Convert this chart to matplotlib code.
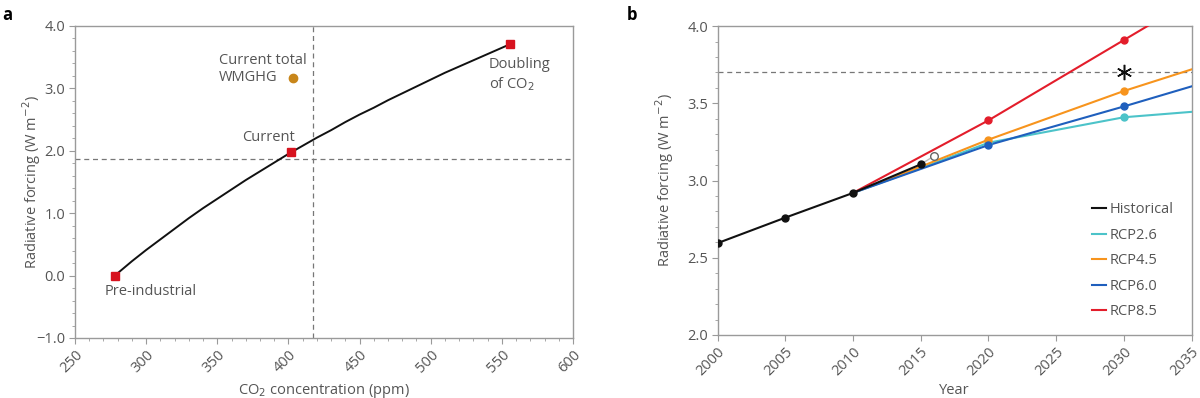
import numpy as np
import matplotlib
matplotlib.use("Agg")
import matplotlib.pyplot as plt
from matplotlib.ticker import MultipleLocator, FuncFormatter
from matplotlib.lines import Line2D

plt.rcParams['font.family'] = ['Open Sans', 'DejaVu Sans']

# panel a: CO2 concentration vs radiative forcing (curve)
co2_ppm = [278, 290, 300, 310, 320, 330, 340, 350, 360, 370, 380, 390, 400, 410,
           420, 430, 440, 450, 460, 470, 480, 490, 500, 510, 520, 530, 540, 550, 556]
co2_rf = [0.0, 0.23, 0.41, 0.58, 0.75, 0.92, 1.08, 1.23, 1.38, 1.53, 1.67, 1.81, 1.95, 2.08,
          2.21, 2.33, 2.46, 2.58, 2.69, 2.81, 2.92, 3.03, 3.14, 3.25, 3.35, 3.45, 3.55, 3.65, 3.71]
marker_ppm = [278, 402, 556]
marker_rf = [0.0, 1.98, 3.71]
wmghg_ppm = 403
wmghg_rf = 3.16
vline_ppm = 417
hline_rf = 1.86

# panel b: forcing by year
hist_years = [2000, 2005, 2010, 2015]
hist_rf = [2.595, 2.76, 2.92, 3.105]
obs_year = 2016
obs_rf = 3.16
rcp_years = [2010, 2015, 2020, 2030, 2035]
rcp26 = [2.92, 3.08, 3.245, 3.41, 3.445]
rcp45 = [2.92, 3.09, 3.265, 3.58, 3.72]
rcp60 = [2.92, 3.075, 3.23, 3.48, 3.61]
rcp85 = [2.92, 3.155, 3.39, 3.91, 4.17]
rcp_marker_years = [2020, 2030]
doubling_rf = 3.7
star_year = 2030

rcp_names = ['RCP2.6', 'RCP4.5', 'RCP6.0', 'RCP8.5']
rcp_colors = ['#4cc3c9', '#f7941d', '#1f5fbd', '#e31d2b']

txt = '#555555'
spine = '#9a9a9a'
fs = 10.5

fig = plt.figure(figsize=(12, 3.98), dpi=100)
ax1 = fig.add_axes([0.0625, 0.1508, 0.415, 0.784])
ax2 = fig.add_axes([0.598, 0.1583, 0.395, 0.776])

minus_fmt = FuncFormatter(lambda v, p: ('%.1f' % v).replace('-', '\u2212'))


def style(ax):
    for s in ax.spines.values():
        s.set_color(spine)
        s.set_linewidth(1.0)
    ax.tick_params(which='both', colors=spine, labelcolor=txt, labelsize=fs, direction='out')
    ax.tick_params(which='major', length=4, pad=3)
    ax.tick_params(which='minor', length=2.5)
    ax.yaxis.set_major_formatter(minus_fmt)
    for lab in ax.get_xticklabels():
        lab.set_rotation(45)
        lab.set_ha('right')
        lab.set_rotation_mode('anchor')


# ---- panel a
ax1.plot(co2_ppm, co2_rf, color='#111111', lw=1.4, zorder=3)
ax1.plot(marker_ppm, marker_rf, 's', color='#d7131f', ms=6, zorder=4)
ax1.plot(wmghg_ppm, wmghg_rf, 'o', color='#c8861a', ms=6, zorder=4)
ax1.axvline(vline_ppm, color='#777777', lw=0.9, ls=(0, (4, 3)), zorder=2)
ax1.axhline(hline_rf, color='#777777', lw=0.9, ls=(0, (4, 3)), zorder=2)
ax1.set_xlim(250, 600)
ax1.set_ylim(-1.0, 4.0)
ax1.xaxis.set_major_locator(MultipleLocator(50))
ax1.xaxis.set_minor_locator(MultipleLocator(10))
ax1.yaxis.set_major_locator(MultipleLocator(1.0))
ax1.yaxis.set_minor_locator(MultipleLocator(0.2))
style(ax1)
ax1.set_xlabel('CO$_2$ concentration (ppm)', color=txt, fontsize=fs, labelpad=4)
ax1.set_ylabel('Radiative forcing (W m$^{-2}$)', color=txt, fontsize=fs)
ax1.yaxis.set_label_coords(-0.064, 0.5)

ax1.text(351, 3.31, 'Current total\nWMGHG', ha='left', va='center', color=txt,
         fontsize=fs, linespacing=1.25)
ax1.text(386, 2.22, 'Current', ha='center', va='center', color=txt, fontsize=fs)
ax1.text(541, 3.22, 'Doubling\nof CO$_2$', ha='left', va='center', color=txt,
         fontsize=fs, linespacing=1.25)
ax1.text(271, -0.26, 'Pre-industrial', ha='left', va='center', color=txt, fontsize=fs)
fig.text(0.002, 0.985, 'a', fontsize=12, fontweight='bold', va='top', ha='left')

# ---- panel b
ax2.axhline(doubling_rf, color='#777777', lw=0.9, ls=(0, (4, 3)), zorder=1)
for vals, c in zip([rcp26, rcp45, rcp60, rcp85], rcp_colors):
    ax2.plot(rcp_years, vals, color=c, lw=1.5, zorder=3)
    mk = [v for y, v in zip(rcp_years, vals) if y in rcp_marker_years]
    ax2.plot(rcp_marker_years, mk, 'o', color=c, ms=5, zorder=4)
ax2.plot([hist_years[-1], obs_year], [hist_rf[-1], obs_rf], color='#bbbbbb', lw=1.0, zorder=3)
ax2.plot(hist_years, hist_rf, color='#111111', lw=1.5, marker='o', ms=5, zorder=5)
ax2.plot(obs_year, obs_rf, 'o', mfc='white', mec='#666666', mew=1.0, ms=5.5, zorder=5)
ax2.plot(star_year, doubling_rf, marker=(6, 2, 0), color='#111111', ms=11, mew=1.1, zorder=6)
ax2.set_xlim(2000, 2035)
ax2.set_ylim(2.0, 4.0)
ax2.xaxis.set_major_locator(MultipleLocator(5))
ax2.yaxis.set_major_locator(MultipleLocator(0.5))
ax2.yaxis.set_minor_locator(MultipleLocator(0.1))
style(ax2)
ax2.set_xlabel('Year', color=txt, fontsize=fs, labelpad=3)
ax2.set_ylabel('Radiative forcing (W m$^{-2}$)', color=txt, fontsize=fs)
ax2.yaxis.set_label_coords(-0.087, 0.5)
fig.text(0.522, 0.985, 'b', fontsize=12, fontweight='bold', va='top', ha='left')

handles = [Line2D([], [], color='#111111', lw=1.5)]
handles += [Line2D([], [], color=c, lw=1.5) for c in rcp_colors]
leg = ax2.legend(handles, ['Historical'] + rcp_names, loc='lower right',
                 bbox_to_anchor=(0.99, 0.008), frameon=False, fontsize=fs,
                 handlelength=1.0, handletextpad=0.25, labelspacing=0.72,
                 labelcolor=txt)

fig.savefig('out.png', dpi=100)
